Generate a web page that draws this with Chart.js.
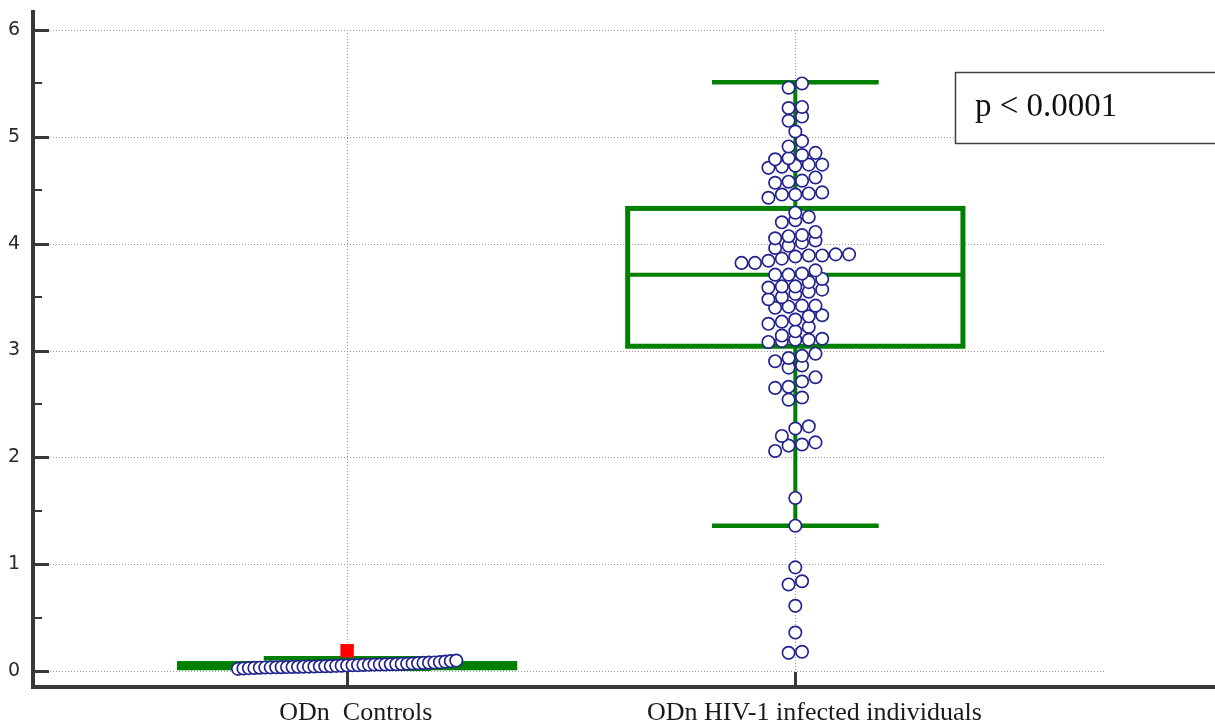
<!DOCTYPE html>
<html>
<head>
<meta charset="utf-8">
<script src="https://cdn.jsdelivr.net/npm/chart.js@4/dist/chart.umd.min.js"></script>
<style>
  html, body { margin: 0; padding: 0; background: #fff; }
  canvas { display: block; }
</style>
</head>
<body>
<canvas id="odnChart" width="1215" height="722"></canvas>
<script>
// --- data ---
const categories = ['ODn  Controls', 'ODn HIV-1 infected individuals'];
const yTicks = [0, 1, 2, 3, 4, 5, 6];

const controlsValues = [
  0.020, 0.024, 0.027, 0.029, 0.031, 0.033, 0.034, 0.035, 0.036, 0.037,
  0.038, 0.039, 0.040, 0.041, 0.042, 0.044, 0.045, 0.046, 0.048, 0.050,
  0.052, 0.054, 0.055, 0.057, 0.058, 0.060, 0.061, 0.062, 0.063, 0.064,
  0.066, 0.068, 0.070, 0.073, 0.076, 0.078, 0.080, 0.083, 0.088, 0.093,
  0.098
];
const controlsOutliers = [0.19];

const hivValues = [
  5.50, 5.46, 5.28, 5.27, 5.19, 5.15, 5.05, 4.96, 4.91,
  4.85, 4.83, 4.80, 4.79,
  4.74, 4.74, 4.73, 4.72, 4.71,
  4.62, 4.59, 4.58, 4.57,
  4.48, 4.47, 4.46, 4.46, 4.43,
  4.29, 4.25, 4.22, 4.20,
  4.11, 4.08, 4.07, 4.05,
  4.03, 4.01, 3.98, 3.96,
  3.90, 3.90, 3.89, 3.89, 3.88, 3.86, 3.84, 3.82, 3.82,
  3.75, 3.72, 3.71, 3.71,
  3.67, 3.64, 3.60, 3.60, 3.59,
  3.57, 3.55, 3.53, 3.50, 3.48,
  3.42, 3.42, 3.41, 3.40,
  3.33, 3.32, 3.29, 3.27, 3.25,
  3.22, 3.18, 3.14,
  3.11, 3.10, 3.10, 3.09, 3.08,
  2.97, 2.95, 2.93, 2.90,
  2.86, 2.84,
  2.75, 2.71, 2.66, 2.65,
  2.56, 2.54,
  2.29, 2.27, 2.20,
  2.14, 2.12, 2.11, 2.06,
  1.62, 1.36, 0.97, 0.84, 0.81, 0.61, 0.36, 0.18, 0.17
];

// box plot statistics per category
const whiskerLow  = [0.02, 1.36];
const boxQ1       = [0.03, 3.04];
const boxMedian   = [0.05, 3.71];
const boxQ3       = [0.07, 4.33];
const whiskerHigh = [0.12, 5.51];

const pValueText = 'p < 0.0001';

// --- layout helpers (dot plot) ---
const ROW_H = 0.117;     // height of one dot row, in y units
const DOT_STEP = 0.030;  // horizontal spacing of dots, in x units
const ROW_MAX = 0.487;   // max width of one row, in x units
const GREEN = '#008000';
const LABEL_FONT = '26px "Liberation Serif", "Times New Roman", serif';

function swarm(values, center, origin) {
  const rows = {};
  values.forEach(v => {
    const k = Math.floor((v - origin) / ROW_H);
    (rows[k] = rows[k] || []).push(v);
  });
  const pts = [];
  Object.values(rows).forEach(row => {
    row.sort((a, b) => a - b);
    const n = row.length;
    const step = n > 1 ? Math.min(DOT_STEP, ROW_MAX / (n - 1)) : 0;
    row.forEach((v, j) => pts.push({ x: center + (j - (n - 1) / 2) * step, y: v }));
  });
  return pts;
}

function noPadding(scale) {
  scale.paddingTop = 0;
  scale.paddingBottom = 0;
  scale.paddingLeft = 0;
  scale.paddingRight = 0;
}

// grid, box plots, axes, category labels and the p-value box
const boxPlugin = {
  id: 'boxPlugin',
  beforeDatasetsDraw(chart) {
    const ctx = chart.ctx;
    const xs = chart.scales.x, ys = chart.scales.y;
    const area = chart.chartArea;
    ctx.save();
    // dotted grid
    ctx.strokeStyle = '#9a9a9a';
    ctx.lineWidth = 1;
    ctx.setLineDash([1, 2]);
    yTicks.forEach(t => {
      const y = Math.round(ys.getPixelForValue(t)) + 0.5;
      ctx.beginPath();
      ctx.moveTo(area.left + 17, y);
      ctx.lineTo(1105, y);
      ctx.stroke();
    });
    categories.forEach((c, i) => {
      const x = Math.round(xs.getPixelForValue(i + 1)) + 0.5;
      ctx.beginPath();
      ctx.moveTo(x, ys.getPixelForValue(yTicks[yTicks.length - 1]));
      ctx.lineTo(x, area.bottom);
      ctx.stroke();
    });
    ctx.setLineDash([]);

    // box plots
    ctx.strokeStyle = GREEN;
    categories.forEach((c, i) => {
      const cx = xs.getPixelForValue(i + 1);
      const half = xs.getPixelForValue(i + 1 + 0.374) - cx;
      const capHalf = xs.getPixelForValue(i + 1 + 0.186) - cx;
      const yq1 = ys.getPixelForValue(boxQ1[i]);
      const yq3 = ys.getPixelForValue(boxQ3[i]);
      const ymed = ys.getPixelForValue(boxMedian[i]);
      const ylo = ys.getPixelForValue(whiskerLow[i]);
      const yhi = ys.getPixelForValue(whiskerHigh[i]);
      // whiskers
      ctx.lineWidth = 4;
      ctx.beginPath();
      ctx.moveTo(cx, yq3); ctx.lineTo(cx, yhi);
      ctx.moveTo(cx, yq1); ctx.lineTo(cx, ylo);
      ctx.stroke();
      ctx.lineWidth = 4.5;
      ctx.beginPath();
      ctx.moveTo(cx - capHalf, yhi); ctx.lineTo(cx + capHalf, yhi);
      ctx.moveTo(cx - capHalf, ylo); ctx.lineTo(cx + capHalf, ylo);
      ctx.stroke();
      // box
      ctx.lineWidth = 5;
      ctx.strokeRect(cx - half, yq3, 2 * half, yq1 - yq3);
      ctx.lineWidth = 4;
      ctx.beginPath();
      ctx.moveTo(cx - half, ymed); ctx.lineTo(cx + half, ymed);
      ctx.stroke();
    });
    ctx.restore();
  },
  afterDatasetsDraw(chart) {
    const ctx = chart.ctx;
    const xs = chart.scales.x, ys = chart.scales.y;
    const area = chart.chartArea;
    ctx.save();
    ctx.fillStyle = '#383838';
    // axis lines
    ctx.fillRect(area.left - 2, 10, 4, area.bottom - 10 + 2);
    ctx.fillRect(area.left - 2, area.bottom - 2, chart.width - area.left + 2, 4);
    // y ticks, major and minor
    yTicks.forEach((t, i) => {
      const y = ys.getPixelForValue(t);
      ctx.fillRect(area.left, Math.round(y) - 1, 16, 3);
      if (i < yTicks.length - 1) {
        const ym = ys.getPixelForValue((t + yTicks[i + 1]) / 2);
        ctx.fillRect(area.left, Math.round(ym) - 1, 9, 2);
      }
    });
    // x ticks and category labels (text sits a little right of the tick, as in the original)
    ctx.font = LABEL_FONT;
    ctx.textAlign = 'left';
    ctx.textBaseline = 'alphabetic';
    categories.forEach((c, i) => {
      const x = xs.getPixelForValue(i + 1);
      ctx.fillStyle = '#383838';
      ctx.fillRect(Math.round(x) - 1, area.bottom - 15, 3, 15);
      const w = ctx.measureText(c).width;
      ctx.fillStyle = '#1a1a1a';
      ctx.fillText(c, x - w * 0.443, 720);
    });
    // p-value box
    ctx.fillStyle = '#fff';
    ctx.fillRect(955, 72, 270, 72);
    ctx.lineWidth = 1.5;
    ctx.strokeStyle = '#404040';
    ctx.strokeRect(955.5, 72.5, 270, 71);
    ctx.fillStyle = '#111';
    ctx.font = '33px "Liberation Serif", "Times New Roman", serif';
    ctx.fillText(pValueText, 975, 116);
    ctx.restore();
  }
};

const ctx = document.getElementById('odnChart').getContext('2d');
const odnChart = new Chart(ctx, {
  type: 'scatter',
  data: {
    datasets: [
      {
        label: 'Outside values',
        data: controlsOutliers.map(v => ({ x: 1, y: v })),
        pointStyle: 'rect',
        pointRadius: 9.5,
        pointBackgroundColor: '#ff0000',
        pointBorderWidth: 0,
        order: 0
      },
      {
        label: categories[0],
        data: swarm(controlsValues, 1, 0),
        pointRadius: 6.2,
        pointBackgroundColor: '#ffffff',
        pointBorderColor: '#23238e',
        pointBorderWidth: 1.7,
        order: 1
      },
      {
        label: categories[1],
        data: swarm(hivValues, 2, 0.6 * ROW_H),
        pointRadius: 6.2,
        pointBackgroundColor: '#ffffff',
        pointBorderColor: '#23238e',
        pointBorderWidth: 1.7,
        order: 1
      }
    ]
  },
  options: {
    responsive: false,
    animation: false,
    layout: { padding: { top: 10, right: 0, left: 0, bottom: 0 } },
    plugins: {
      legend: { display: false },
      tooltip: { enabled: false }
    },
    scales: {
      x: {
        type: 'linear',
        min: 0.29911,
        max: 2.9152,
        grid: { display: false, drawTicks: false },
        border: { display: false },
        afterBuildTicks: scale => { scale.ticks = categories.map((c, i) => ({ value: i + 1 })); },
        afterFit: scale => { scale.height = 35; noPadding(scale); },
        ticks: { display: false }
      },
      y: {
        min: -0.1498,
        max: 6.1874,
        grid: { display: false, drawTicks: false },
        border: { display: false },
        afterBuildTicks: scale => { scale.ticks = yTicks.map(v => ({ value: v })); },
        afterFit: scale => { scale.width = 33; noPadding(scale); },
        ticks: {
          padding: 13,
          color: '#2a2a2a',
          font: { family: '"DejaVu Sans", Tahoma, sans-serif', size: 19 },
          callback: value => String(value)
        }
      }
    }
  },
  plugins: [boxPlugin]
});
</script>
</body>
</html>
